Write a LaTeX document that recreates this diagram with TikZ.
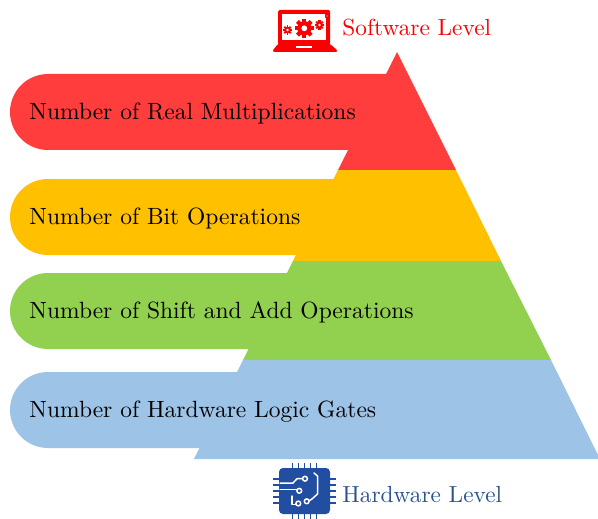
\documentclass[tikz,border=0pt]{standalone}
\usepackage{tikz}

\definecolor{realred}{RGB}{255,61,61}
\definecolor{bitgold}{RGB}{255,192,0}
\definecolor{shiftgreen}{RGB}{146,208,80}
\definecolor{gateblue}{RGB}{157,195,230}
\definecolor{laptopred}{RGB}{250,0,0}
\definecolor{chipblue}{RGB}{33,78,160}
\definecolor{hwblue}{RGB}{44,82,140}

\begin{document}
\begin{tikzpicture}[x=1pt, y=-1pt,
                bartext/.style={anchor=base west, inner sep=0pt, scale=2.35},
                leveltext/.style={anchor=base west, inner sep=0pt, scale=2.33},
                trace/.style={draw=white, line width=1.5pt, line cap=round, line join=round}
                ]
                \useasboundingbox (0,0) rectangle (598,519);
                % pyramid
                \fill[realred] (397,52) -- (456,170) -- (338,170) -- cycle;
                \fill[bitgold] (338,170) -- (456,170) -- (501,261) -- (293,261) -- cycle;
                \fill[shiftgreen] (293,261) -- (501,261) -- (551,360) -- (243,360) -- cycle;
                \fill[gateblue] (243,360) -- (551,360) -- (600,459) -- (194,459) -- cycle;
                % bars
                \foreach \n/\col/\top/\txt in {real/realred/74/Number of Real Multiplications,
                  bit/bitgold/179/Number of Bit Operations,
                  shift/shiftgreen/273/Number of Shift and Add Operations,
                  gate/gateblue/372/Number of Hardware Logic Gates}{
                  \fill[\col] (48,\top) arc[start angle=270, end angle=90, radius=38]
                    -- ++(352,0) -- ++(0,-76) -- cycle;
                  \node[bartext] (\n) at (29,\top+45.5) {\txt};
                }
                % laptop
                \fill[laptopred, rounded corners=1.5pt] (278,10) rectangle (330,45);
                \fill[white] (282,14) rectangle (326,40);
                \fill[laptopred, rounded corners=1pt] (278,44) -- (330,44) -- (337,50)
                  -- (337,52) -- (273,52) -- (273,50) -- cycle;
                \fill[white] (296,46.5) rectangle (312,48.3);
                \foreach \gx/\gy/\gr in {304.3/28.3/7, 287.5/30/3.3, 319.5/25/3.4, 327/16/1.7}{
                  \fill[laptopred] (\gx,\gy) circle[radius=\gr];
                  \foreach \a in {0,45,...,315}
                    \fill[laptopred, rotate around={\a:(\gx,\gy)}]
                      (\gx-0.3*\gr,\gy) rectangle (\gx+0.3*\gr,\gy-1.38*\gr);
                  \fill[white] (\gx,\gy) circle[radius=0.42*\gr];
                }
                \node[leveltext, text=laptopred] (sw) at (342,36) {Software Level};
                % chip
                \fill[chipblue, rounded corners=4pt] (279,468) rectangle (330,514);
                \foreach \i in {-2,...,2}{
                  \fill[chipblue] (304.5+6*\i-0.8,463) rectangle ++(1.6,5);
                  \fill[chipblue] (304.5+6*\i-0.8,514) rectangle ++(1.6,5);
                  \fill[chipblue] (273,491+6*\i-0.8) rectangle ++(6,1.6);
                  \fill[chipblue] (330,491+6*\i-0.8) rectangle ++(6,1.6);
                }
                \draw[trace] (280,483) -- (293,483) -- (297,478.7) -- (302.5,478.7);
                \draw[trace] (280,489.7) -- (296.5,489.7);
                \draw[trace] (292,496) -- (292,504.5) -- (295.5,504.5);
                \draw[trace] (314,473) -- (317.5,476) -- (317.5,494) -- (312,499) -- (309.5,500.5);
                \draw[trace, fill=chipblue] (305,478.7) circle[radius=2.4]
                  (299.3,490.8) circle[radius=2.4] (298.3,503.5) circle[radius=2.4]
                  (306.7,501.3) circle[radius=2.4];
                \node[leveltext, text=hwblue] (hw) at (342,502) {Hardware Level};
              \end{tikzpicture}
\end{document}
